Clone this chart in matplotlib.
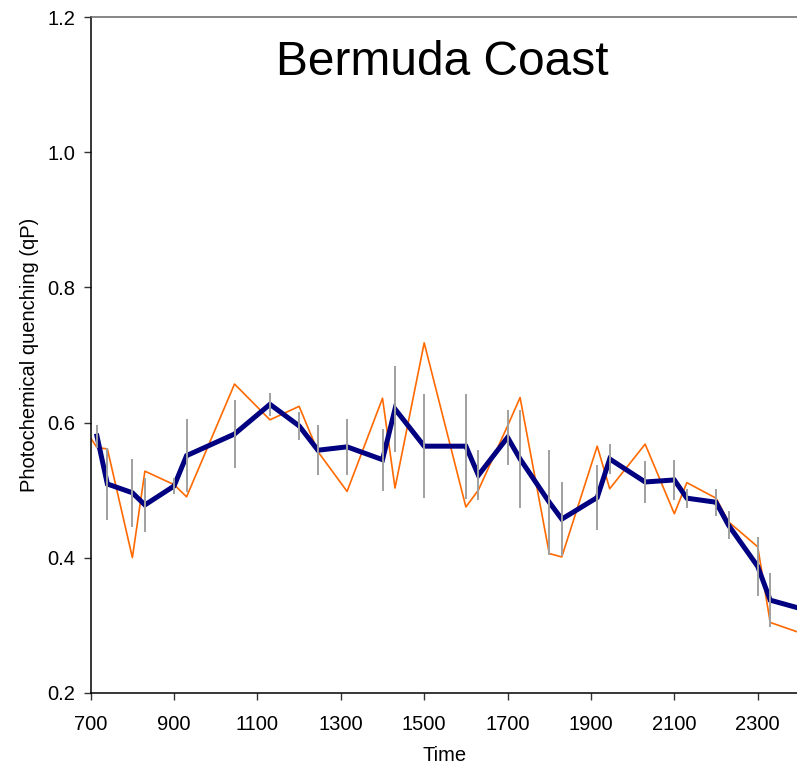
import numpy as np
import matplotlib
matplotlib.use("Agg")
import matplotlib.pyplot as plt

plt.rcParams["font.family"] = ["Liberation Sans", "DejaVu Sans"]

# sampling times (hhmm) and photochemical quenching
time = [715, 740, 800, 830, 900, 930, 1045, 1130, 1200, 1245, 1315, 1400, 1430, 1500, 1600,
        1630, 1700, 1730, 1800, 1830, 1915, 1945, 2030, 2100, 2130, 2200, 2230, 2300, 2330, 2400]
qp_mean = [0.580, 0.509, 0.496, 0.478, 0.506, 0.551, 0.583, 0.627, 0.595, 0.559, 0.564, 0.545,
           0.620, 0.565, 0.565, 0.522, 0.578, 0.546, 0.482, 0.457, 0.489, 0.546, 0.512, 0.515,
           0.488, 0.482, 0.448, 0.387, 0.337, 0.325]
qp_err = [0.017, 0.054, 0.050, 0.040, 0.012, 0.054, 0.050, 0.017, 0.021, 0.037, 0.041, 0.046,
          0.063, 0.077, 0.078, 0.037, 0.041, 0.072, 0.078, 0.055, 0.048, 0.022, 0.031, 0.030,
          0.014, 0.020, 0.021, 0.044, 0.040, np.nan]

time_single = [700] + time
qp_single = [0.577, 0.563, 0.561, 0.400, 0.528, 0.508, 0.490, 0.657, 0.604, 0.624, 0.557, 0.498,
             0.636, 0.503, 0.718, 0.475, 0.500, 0.595, 0.637, 0.406, 0.401, 0.565, 0.502, 0.568,
             0.465, 0.511, 0.488, 0.453, 0.416, 0.304, 0.289]

fig = plt.figure(figsize=(7.97, 7.67), dpi=100)
axs = fig.add_axes([0.1138, 0.0969, 0.8892, 0.8805])

axs.plot(time_single, qp_single, color="#ff6a00", lw=1.2, zorder=2)
axs.plot(time, qp_mean, color="#000080", lw=3.6, solid_joinstyle="miter", zorder=3)
axs.errorbar(time, qp_mean, yerr=qp_err, fmt="none", ecolor="#a0a0a0", elinewidth=1.4,
             capsize=0, zorder=4)

axs.set_xlim(700, 2400)
axs.set_ylim(0.2, 1.2)
axs.set_xticks(np.arange(700, 2400, 200))
axs.set_yticks(np.arange(0.2, 1.21, 0.2))
axs.set_yticklabels([f"{v:.1f}" for v in np.arange(0.2, 1.21, 0.2)])

axs.tick_params(axis="both", direction="out", length=5, width=1, color="#333333",
                labelsize=14.5)
axs.tick_params(axis="x", pad=11)
axs.tick_params(axis="y", pad=6)
for side in ["left", "bottom"]:
    axs.spines[side].set_color("black")
    axs.spines[side].set_linewidth(1.1)
axs.spines["top"].set_color("#666666")
axs.spines["top"].set_linewidth(1.1)
axs.spines["right"].set_visible(False)

axs.set_xlabel("Time", fontsize=14.5, labelpad=9)
axs.set_ylabel("Photochemical quenching (qP)", fontsize=14.5, labelpad=6)

axs.text(0.496, 0.9146, "Bermuda Coast", transform=axs.transAxes, ha="center",
         va="baseline", fontsize=34.5)

plt.savefig("out.png", dpi=100)
